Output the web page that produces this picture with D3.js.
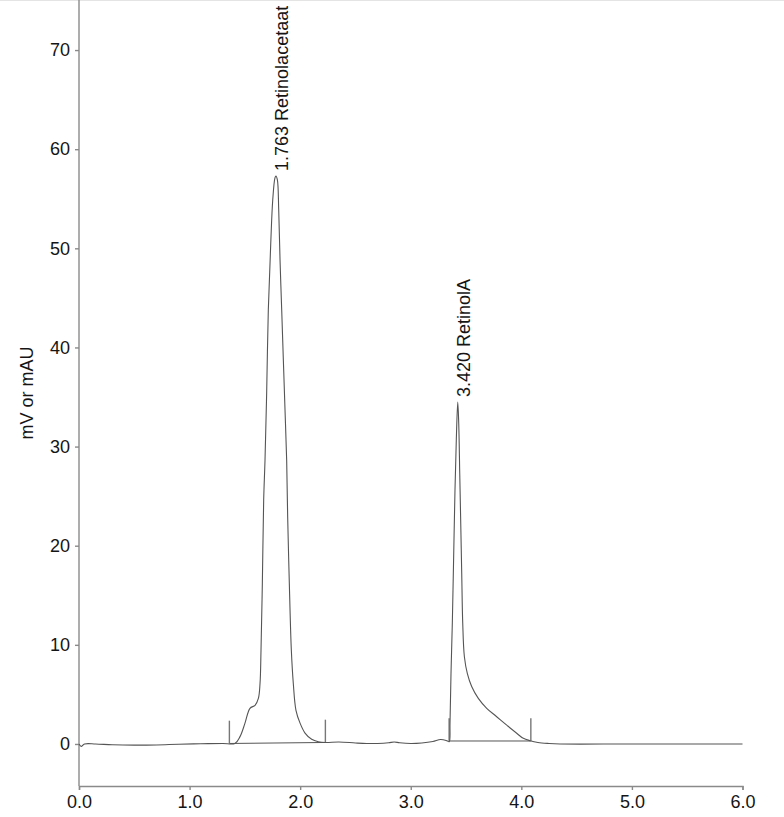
<!DOCTYPE html>
<html>
<head>
<meta charset="utf-8">
<script src="https://cdn.jsdelivr.net/npm/d3@7/dist/d3.min.js"></script>
<style>
  html, body { margin: 0; padding: 0; background: #fff; }
  svg { display: block; }
  text { font-family: "Liberation Sans", Arial, Helvetica, sans-serif; fill: #151515; }
</style>
</head>
<body>
<svg id="chart" width="784" height="817"></svg>
<script>
// ---- data ----
const timeMin = [0.00,0.02,0.05,0.15,0.30,0.50,0.70,0.90,1.10,1.30,1.41,1.456,1.501,1.546,1.592,1.622,1.637,1.646,1.658,1.670,1.682,1.697,1.712,1.734,1.752,1.772,1.781,1.794,1.806,1.818,1.833,1.848,1.863,1.878,1.887,1.902,1.920,1.938,1.962,1.999,2.044,2.104,2.164,2.23,2.35,2.50,2.60,2.70,2.80,2.85,2.90,3.00,3.10,3.20,3.27,3.32,3.340,3.349,3.355,3.364,3.376,3.388,3.400,3.412,3.425,3.434,3.443,3.452,3.461,3.470,3.485,3.512,3.551,3.611,3.687,3.777,3.868,3.958,4.018,4.079,4.15,4.25,4.35,5.00,6.00];
const signal  = [0.00,-0.25,0.00,0.00,-0.08,-0.12,-0.10,-0.03,0.02,0.05,0.05,0.74,2.1,3.6,3.9,4.6,6.1,9.5,16.2,24.6,28.6,35.4,43.8,50.5,54.9,57.1,57.3,56.9,53.9,48.8,43.8,38.7,33.7,28.6,22.9,16.2,9.5,6.1,3.4,2.1,1.1,0.47,0.23,0.15,0.20,0.10,0.05,0.05,0.12,0.20,0.12,0.05,0.10,0.25,0.45,0.35,0.25,0.23,2.1,7.1,12.2,18.9,25.6,30.7,34.5,32.3,27.3,22.3,17.2,12.2,8.8,7.1,5.8,4.6,3.6,2.75,1.9,1.08,0.57,0.33,0.15,0.05,0.00,0.00,0.00];

const peakRetention = ["1.763", "3.420"];
const peakNames     = ["Retinolacetaat", "RetinolA"];
const peakApexTime  = [1.781, 3.425];
const peakApexValue = [57.3, 34.5];
const peakStartTime = [1.360, 3.347];
const peakStartBase = [0.05, 0.30];
const peakEndTime   = [2.228, 4.086];
const peakEndBase   = [0.15, 0.30];
const markerHeight  = 2.3;

const xTicks = [0, 1, 2, 3, 4, 5, 6];
const yTicks = [0, 10, 20, 30, 40, 50, 60, 70];
const yTitle = "mV or mAU";

// ---- drawing ----
const svg = d3.select("#chart");
const x = d3.scaleLinear().domain([0, 6]).range([79, 742.5]);
const y = d3.scaleLinear().domain([-4.24, 75.05]).range([786, 0]);

const axisColor = "#8a8a8a";
const lineColor = "#555";

// faint top frame line
svg.append("line").attr("x1", 0).attr("x2", 784).attr("y1", 0.5).attr("y2", 0.5)
  .attr("stroke", "#e4e4e4").attr("stroke-width", 1);

// y axis
const yAxis = svg.append("g").attr("transform", `translate(${x(0)},0)`)
  .call(d3.axisLeft(y).tickValues(yTicks).tickFormat(d3.format("d")).tickSize(4).tickPadding(5));
yAxis.select(".domain").attr("d", `M0,0V${y.range()[0]}`);
// x axis
const xAxis = svg.append("g").attr("transform", `translate(0,${y.range()[0]})`)
  .call(d3.axisBottom(x).tickValues(xTicks).tickFormat(d3.format(".1f")).tickSize(4).tickPadding(5));

[yAxis, xAxis].forEach(g => {
  g.select(".domain").attr("stroke", axisColor).attr("stroke-width", 1.4);
  g.selectAll(".tick line").attr("stroke", axisColor).attr("stroke-width", 1.4);
  g.selectAll(".tick text").attr("font-size", 18).attr("fill", "#151515")
    .attr("font-family", '"Liberation Sans", Arial, sans-serif');
});

// y title
svg.append("text")
  .attr("transform", `translate(33,${y(35.4)}) rotate(-90)`)
  .attr("text-anchor", "middle")
  .attr("font-size", 18)
  .text(yTitle);

// integration baselines
const peaks = peakNames.map((n, i) => ({
  name: n, rt: peakRetention[i], t: peakApexTime[i], v: peakApexValue[i],
  t0: peakStartTime[i], b0: peakStartBase[i], t1: peakEndTime[i], b1: peakEndBase[i]
}));

svg.selectAll(".ibase").data(peaks).enter().append("line")
  .attr("x1", d => x(d.t0)).attr("y1", d => y(d.b0))
  .attr("x2", d => x(d.t1)).attr("y2", d => y(d.b1))
  .attr("stroke", lineColor).attr("stroke-width", 1);

// start / end markers
const markers = [];
peaks.forEach(d => { markers.push({t: d.t0, b: d.b0}); markers.push({t: d.t1, b: d.b1}); });
svg.selectAll(".marker").data(markers).enter().append("line")
  .attr("x1", d => x(d.t)).attr("x2", d => x(d.t))
  .attr("y1", d => y(d.b)).attr("y2", d => y(d.b + markerHeight))
  .attr("stroke", "#777").attr("stroke-width", 1.4);

// signal trace
const pts = timeMin.map((t, i) => [t, signal[i]]);
svg.append("path").datum(pts)
  .attr("fill", "none").attr("stroke", lineColor).attr("stroke-width", 1.1)
  .attr("stroke-linejoin", "round")
  .attr("d", d3.line().x(d => x(d[0])).y(d => y(d[1])).curve(d3.curveCatmullRom.alpha(0.5)));

// peak labels
svg.selectAll(".plabel").data(peaks).enter().append("text")
  .attr("transform", d => `translate(${x(d.t) + 12},${y(d.v) - 5}) rotate(-90)`)
  .attr("text-anchor", "start")
  .attr("font-size", 18)
  .text(d => `${d.rt} ${d.name}`);
</script>
</body>
</html>
